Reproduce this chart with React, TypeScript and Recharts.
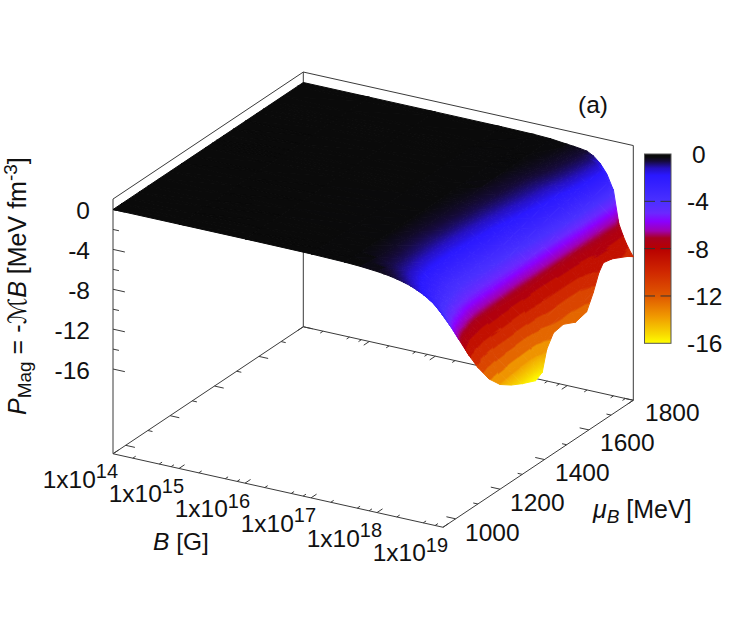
import React from 'react';
import { Scatter, ScatterChart, XAxis, YAxis } from 'recharts';

const FONT = '"Liberation Sans", Arial, sans-serif';
const INK = '#3a3a3a';
const TEXT_SIZE = 24.5;

// axis values
const logBValues = [14, 15, 16, 17, 17.5, 17.75, 18, 18.1, 18.2, 18.3, 18.4, 18.5, 18.6, 18.7, 18.78, 18.85, 18.9, 18.95, 19];
const muValues = [943, 980, 1016, 1060, 1100, 1150, 1200, 1250, 1300, 1360, 1390, 1410, 1440, 1485, 1540, 1590, 1620, 1645, 1665, 1705, 1775, 1800];

// P_Mag: one row per mu value, one column per log10(B)
const pressure = [
  [0, 0, 0, -0.03, -0.1, -0.18, -0.32, -0.4, -0.5, -0.64, -0.8, -1, -1.28, -1.6, -1.92, -2.24, -2.56, -2.88, -3.2],
  [0, 0, 0, -0.05, -0.15, -0.28, -0.5, -0.63, -0.79, -1, -1.25, -1.58, -2, -2.5, -3, -3.5, -4, -4.5, -5],
  [0, 0, 0, -0.07, -0.2, -0.38, -0.68, -0.86, -1.07, -1.36, -1.7, -2.15, -2.72, -3.4, -4.08, -4.76, -5.44, -6.12, -6.8],
  [0, 0, 0, -0.08, -0.22, -0.42, -0.75, -0.98, -1.25, -1.7, -2.2, -2.84, -3.5, -4.2, -5, -6.1, -7.2, -8.1, -9],
  [0, 0, 0, -0.09, -0.24, -0.45, -0.8, -1.05, -1.4, -1.9, -2.5, -3.3, -3.9, -4.7, -5.9, -7.2, -8.64, -9.72, -10.8],
  [0, 0, 0, -0.1, -0.25, -0.48, -0.85, -1.1, -1.45, -2, -2.7, -3.6, -4.3, -5.3, -6.9, -8.5, -10.16, -11.43, -12.7],
  [0, 0, 0, -0.1, -0.25, -0.48, -0.85, -1.1, -1.45, -1.95, -2.7, -3.6, -4.4, -5.4, -7.2, -9.2, -11.2, -12.6, -14],
  [0, 0, 0, -0.1, -0.25, -0.46, -0.8, -1.05, -1.38, -1.85, -2.6, -3.5, -4.3, -5.4, -7.4, -9.6, -11.7, -13.3, -14.8],
  [0, 0, 0, -0.1, -0.24, -0.45, -0.78, -1, -1.3, -1.75, -2.45, -3.4, -4.2, -5.4, -7.5, -9.9, -12.1, -13.8, -15.4],
  [0, 0, 0, -0.09, -0.23, -0.42, -0.72, -0.92, -1.2, -1.6, -2.25, -3.2, -4.1, -5.3, -7.6, -10.2, -12.6, -14.4, -16],
  [0, 0, 0, -0.09, -0.22, -0.4, -0.7, -0.9, -1.15, -1.5, -2.1, -3, -3.9, -5.2, -7.6, -10.2, -12.5, -14.3, -15.6],
  [0, 0, 0, -0.08, -0.21, -0.38, -0.68, -0.86, -1.1, -1.45, -2, -2.85, -3.7, -5.1, -7.5, -9.9, -11.8, -13, -13.6],
  [0, 0, 0, -0.08, -0.2, -0.37, -0.65, -0.82, -1.05, -1.35, -1.85, -2.6, -3.5, -5, -7.4, -9.4, -10.9, -11.8, -12.4],
  [0, 0, 0, -0.07, -0.18, -0.34, -0.6, -0.76, -0.96, -1.25, -1.65, -2.35, -3.2, -4.8, -7.3, -9.3, -10.6, -11.5, -12.2],
  [0, 0, 0, -0.06, -0.16, -0.3, -0.55, -0.7, -0.88, -1.1, -1.45, -2.05, -2.9, -4.5, -7.2, -9.3, -10.8, -11.9, -12.8],
  [0, 0, 0, -0.05, -0.14, -0.27, -0.5, -0.64, -0.8, -1, -1.3, -1.8, -2.5, -4.2, -7, -9.1, -10.6, -11.6, -12.5],
  [0, 0, 0, -0.05, -0.13, -0.25, -0.45, -0.58, -0.72, -0.9, -1.18, -1.6, -2.5, -3.9, -6.9, -8.8, -9.9, -10.5, -11],
  [0, 0, 0, -0.04, -0.12, -0.23, -0.42, -0.54, -0.66, -0.82, -1.08, -1.45, -2.25, -3.6, -6.8, -8.4, -8.8, -9.1, -9.4],
  [0, 0, 0, -0.04, -0.11, -0.22, -0.4, -0.5, -0.62, -0.78, -1, -1.35, -2.05, -3.7, -6.8, -7.9, -8.2, -8.5, -8.7],
  [0, 0, 0, -0.03, -0.1, -0.2, -0.36, -0.46, -0.58, -0.72, -0.92, -1.22, -1.85, -3.3, -6.6, -7.7, -8.2, -8.6, -8.9],
  [0, 0, 0, -0.02, -0.07, -0.16, -0.3, -0.38, -0.48, -0.62, -0.8, -1.08, -1.6, -2.7, -6.2, -7.9, -8.8, -9.3, -9.7],
  [0, 0, 0, -0.01, -0.05, -0.12, -0.3, -0.36, -0.44, -0.55, -0.9, -1.5, -2.4, -3.9, -7.1, -8.3, -9, -9.6, -10.1],
];

// tick values and labels
const zTicks = [0, -4, -8, -12, -16];
const zMinorTicks = [-2, -6, -10, -14];
const bTicks = [14, 15, 16, 17, 18, 19];
const bMinorSteps = [0.3, 0.7, 0.88];
const muTicks = [1000, 1200, 1400, 1600, 1800];
const muMinorTicks = [1100, 1300, 1500, 1700];
const barTicks = [0, -4, -8, -12, -16];

// palette of the colour box, value then colour
const paletteValues = [0, -0.25, -0.6, -1.2, -1.8, -4, -5, -5.7, -6.5, -7.1, -8, -10, -12, -13.7, -15.2, -16];
const paletteColors = ['#0a0a0a', '#0a0a0c', '#150a38', '#2510c0', '#2a18ff', '#4a30ff', '#6a28ff', '#8a00ff', '#a000b0', '#a80020', '#b80000', '#d02800', '#e05800', '#f09800', '#f8d800', '#ffff00'];

const hexToRgb = (hex: string) => [1, 3, 5].map((i) => parseInt(hex.slice(i, i + 2), 16));

const colorOf = (z: number) => {
  let i = 0;
  while (i < paletteValues.length - 2 && z < paletteValues[i + 1]) i++;
  const f = Math.min(1, Math.max(0, (paletteValues[i] - z) / (paletteValues[i] - paletteValues[i + 1])));
  const a = hexToRgb(paletteColors[i]);
  const b = hexToRgb(paletteColors[i + 1]);
  return `rgb(${a.map((v, k) => Math.round(v + (b[k] - v) * f)).join(',')})`;
};

// the red part of the surface shows flat bands, the rest is a smooth ramp
const surfaceColor = (z: number) => {
  if (z < -7.6 && z > -14) return colorOf(-7.6 - Math.round((-7.6 - z) / 1.2) * 1.2);
  return colorOf(z);
};

// gnuplot style view: orthographic, so every axis is a straight screen vector
const project = (logB: number, mu: number, z: number) => {
  const a = (logB - 14) / 5;
  const t = (mu - 943) / 857;
  return { x: 113 + 330 * a + 190.3 * t, y: 209.5 + 73.5 * a - 127 * t - 9.97 * z, z };
};

// a triangle has one z gradient on screen, so a linear gradient shades it exactly
const makeTriangle = (id: string, p: any[]) => {
  const [p0, p1, p2] = p;
  const det = (p1.x - p0.x) * (p2.y - p0.y) - (p2.x - p0.x) * (p1.y - p0.y);
  const hi = p.reduce((m, q) => (q.z > m.z ? q : m), p0);
  const lo = p.reduce((m, q) => (q.z < m.z ? q : m), p0);
  const base: any = {
    x: (p0.x + p1.x + p2.x) / 3,
    y: (p0.y + p1.y + p2.y) / 3,
    id,
    pts: p.map((q) => `${q.x},${q.y}`).join(' '),
  };
  if (Math.abs(det) < 0.5 || hi.z - lo.z < 0.02 || hi.z > -0.2) {
    return { ...base, solid: surfaceColor((p0.z + p1.z + p2.z) / 3) };
  }
  const A = ((p1.z - p0.z) * (p2.y - p0.y) - (p2.z - p0.z) * (p1.y - p0.y)) / det;
  const B = ((p1.x - p0.x) * (p2.z - p0.z) - (p2.x - p0.x) * (p1.z - p0.z)) / det;
  const g2 = A * A + B * B;
  const span = (lo.z - hi.z) / g2;
  const n = Math.max(2, Math.min(14, Math.ceil((hi.z - lo.z) / 0.2)));
  const stops = [];
  for (let i = 0; i <= n; i++) stops.push({ o: i / n, c: surfaceColor(hi.z + ((lo.z - hi.z) * i) / n) });
  return { ...base, x1: hi.x, y1: hi.y, x2: hi.x + A * span, y2: hi.y + B * span, stops };
};

// surface triangles, far corner first so nearer ones paint over
const cells: any[] = [];
for (let r = muValues.length - 2; r >= 0; r--) {
  for (let c = 0; c < logBValues.length - 1; c++) {
    const near0 = project(logBValues[c], muValues[r], pressure[r][c]);
    const near1 = project(logBValues[c + 1], muValues[r], pressure[r][c + 1]);
    const far1 = project(logBValues[c + 1], muValues[r + 1], pressure[r + 1][c + 1]);
    const far0 = project(logBValues[c], muValues[r + 1], pressure[r + 1][c]);
    cells.push(makeTriangle(`t${r}-${c}a`, [far0, far1, near0]));
    cells.push(makeTriangle(`t${r}-${c}b`, [far1, near1, near0]));
  }
}

const Cell = (props: any) => {
  const d = props.payload;
  if (d.solid) {
    return <polygon points={d.pts} fill={d.solid} stroke={d.solid} strokeWidth={1} strokeLinejoin="round" />;
  }
  return (
    <g>
      <linearGradient id={d.id} gradientUnits="userSpaceOnUse" x1={d.x1} y1={d.y1} x2={d.x2} y2={d.y2}>
        {d.stops.map((s: any) => (
          <stop key={s.o} offset={s.o} stopColor={s.c} />
        ))}
      </linearGradient>
      <polygon points={d.pts} fill={`url(#${d.id})`} stroke={`url(#${d.id})`} strokeWidth={1} strokeLinejoin="round" />
    </g>
  );
};

// frame and ticks
const ZTOP = 1.05;
const ZBOT = -24.5;
const seg = (p: any, q: any) => ({ x: p.x, y: p.y, x2: q.x, y2: q.y });

const frame = [
  seg(project(14, 943, ZTOP), project(14, 943, ZBOT)),
  seg(project(14, 943, ZTOP), project(14, 1800, ZTOP)),
  seg(project(14, 1800, ZTOP), project(19, 1800, ZTOP)),
  seg(project(14, 1800, ZTOP), project(14, 1800, ZBOT)),
  seg(project(19, 1800, ZTOP), project(19, 1800, ZBOT)),
  seg(project(14, 943, ZBOT), project(19, 943, ZBOT)),
  seg(project(14, 943, ZBOT), project(14, 1800, ZBOT)),
  seg(project(19, 943, ZBOT), project(19, 1800, ZBOT)),
  seg(project(14, 1800, ZBOT), project(19, 1800, ZBOT)),
];

const ticks: any[] = [];
zTicks.forEach((z) => ticks.push(seg(project(14, 943, z), project(14.18, 943, z))));
zMinorTicks.forEach((z) => ticks.push(seg(project(14, 943, z), project(14.09, 943, z))));
const bAll = [...bTicks.map((b) => ({ b, len: 25 }))];
bTicks.slice(0, -1).forEach((b) => bMinorSteps.forEach((s) => bAll.push({ b: b + s, len: 13 })));
bAll.forEach(({ b, len }) => {
  ticks.push(seg(project(b, 943, ZBOT), project(b, 943 + len, ZBOT)));
  ticks.push(seg(project(b, 1800, ZBOT), project(b, 1800 - len, ZBOT)));
});
const muAll = [...muTicks.map((m) => ({ m, len: 0.14 })), ...muMinorTicks.map((m) => ({ m, len: 0.07 }))];
muAll.forEach(({ m, len }) => {
  ticks.push(seg(project(19, m, ZBOT), project(19 - len, m, ZBOT)));
  ticks.push(seg(project(14, m, ZBOT), project(14 + len, m, ZBOT)));
});

const Segment = (props: any) => {
  const d = props.payload;
  return <line x1={d.x} y1={d.y} x2={d.x2} y2={d.y2} stroke={INK} strokeWidth={1} />;
};

// colour box
const BAR = { left: 644.5, right: 671, top: 154, bottom: 343.3 };
const barY = (z: number) => BAR.top + ((0 - z) / 16) * (BAR.bottom - BAR.top);
const barPoint = [{ x: BAR.left, y: BAR.top }];
const ColourBox = () => (
  <g>
    <linearGradient id="colourBox" x1="0" y1="0" x2="0" y2="1">
      {paletteValues.map((z, i) => (
        <stop key={z} offset={-z / 16} stopColor={paletteColors[i]} />
      ))}
    </linearGradient>
    <rect x={BAR.left} y={BAR.top} width={BAR.right - BAR.left} height={BAR.bottom - BAR.top} fill="url(#colourBox)" stroke="#555" strokeWidth={1} />
    {barTicks.slice(1, -1).map((z) => (
      <g key={z} stroke="#333" strokeWidth={1}>
        <line x1={BAR.left} x2={BAR.left + 10.5} y1={barY(z)} y2={barY(z)} />
        <line x1={BAR.right - 10.5} x2={BAR.right} y1={barY(z)} y2={barY(z)} />
      </g>
    ))}
  </g>
);

// text marks
const Label = (props: any) => {
  const d = props.payload;
  return (
    <text x={d.x} y={d.y} textAnchor={d.anchor || 'start'} fontFamily={FONT} fontSize={TEXT_SIZE} fill="#111">
      {d.text}
    </text>
  );
};

const PowerLabel = (props: any) => {
  const d = props.payload;
  return (
    <text x={d.x} y={d.y} fontFamily={FONT} fontSize={TEXT_SIZE} fill="#111">
      1x10
      <tspan dy={-9.5} fontSize={20}>{d.text}</tspan>
    </text>
  );
};

const zLabels = zTicks.map((z, i) => ({ x: 90, y: 219 + 39.9 * i, text: String(z), anchor: 'end' }));
const muLabels = muTicks.map((m, i) => ({ x: 645 - 45 * (4 - i), y: 541 - 30 * i, text: String(m) }));
const barLabels = barTicks.map((z) => ({ x: z === 0 ? 692 : 687, y: barY(z) + 9, text: String(z) }));
const powerLabels = bTicks.map((b, i) => ({ x: 42.7 + 66 * i, y: 487.7 + 14.7 * i, text: String(b) }));

const BTitle = () => (
  <text x={153} y={549.5} fontFamily={FONT} fontSize={TEXT_SIZE} fill="#111">
    <tspan fontStyle="italic">B</tspan> [G]
  </text>
);

const MuTitle = () => (
  <text x={593} y={518} fontFamily={FONT} fontSize={25} fill="#111">
    <tspan fontStyle="italic">μ</tspan>
    <tspan fontStyle="italic" fontSize={19} dy={5}>B</tspan>
    <tspan dy={-5}> [MeV]</tspan>
  </text>
);

const ZTitle = () => (
  <text transform="rotate(-90 26 415)" x={26} y={415} fontFamily={FONT} fontSize={25} fill="#111">
    <tspan fontStyle="italic">P</tspan>
    <tspan fontSize={19} dy={5}>Mag</tspan>
    <tspan dy={-5}> = -</tspan>
    <tspan fontFamily='"DejaVu Sans"' fontStyle="italic" fontSize={25}>ℳ</tspan>
    <tspan fontStyle="italic">B</tspan>
    <tspan> [MeV fm</tspan>
    <tspan fontSize={19} dy={-9}>-3</tspan>
    <tspan dy={9}>]</tspan>
  </text>
);

const panelLabel = [{ x: 578, y: 113, text: '(a)' }];
const anchorPoint = [{ x: 0, y: 0 }];

const App = () => (
  <div style={{ position: 'absolute', left: 0, top: 0, width: 747, height: 628, background: '#fff' }}>
    <ScatterChart width={747} height={628} margin={{ top: 0, right: 0, bottom: 0, left: 0 }}>
      <XAxis type="number" dataKey="x" domain={[0, 747]} hide />
      <YAxis type="number" dataKey="y" domain={[0, 628]} reversed hide />
      <Scatter data={frame} shape={Segment} isAnimationActive={false} />
      <Scatter data={ticks} shape={Segment} isAnimationActive={false} />
      <Scatter data={cells} shape={Cell} isAnimationActive={false} />
      <Scatter data={barPoint} shape={ColourBox} isAnimationActive={false} />
      <Scatter data={zLabels} shape={Label} isAnimationActive={false} />
      <Scatter data={muLabels} shape={Label} isAnimationActive={false} />
      <Scatter data={barLabels} shape={Label} isAnimationActive={false} />
      <Scatter data={panelLabel} shape={Label} isAnimationActive={false} />
      <Scatter data={powerLabels} shape={PowerLabel} isAnimationActive={false} />
      <Scatter data={anchorPoint} shape={BTitle} isAnimationActive={false} />
      <Scatter data={anchorPoint} shape={MuTitle} isAnimationActive={false} />
      <Scatter data={anchorPoint} shape={ZTitle} isAnimationActive={false} />
    </ScatterChart>
  </div>
);

export default App;
